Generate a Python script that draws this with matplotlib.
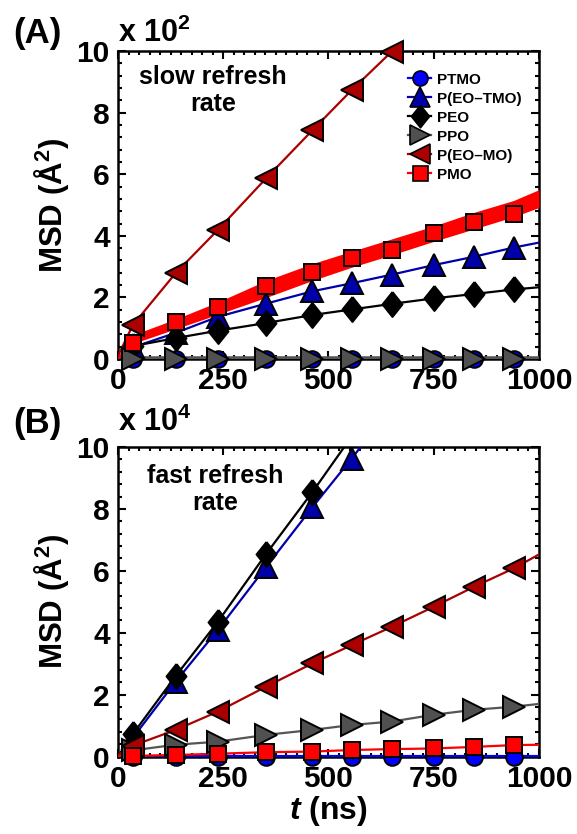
import matplotlib
matplotlib.use("Agg")
import matplotlib.pyplot as plt
from matplotlib.ticker import MultipleLocator
from matplotlib.lines import Line2D

plt.rcParams['font.family'] = 'Liberation Sans'
plt.rcParams['font.weight'] = 'bold'
plt.rcParams['axes.labelweight'] = 'bold'
plt.rcParams['mathtext.fontset'] = 'custom'
plt.rcParams['mathtext.rm'] = 'Liberation Sans:bold'
plt.rcParams['mathtext.bf'] = 'Liberation Sans:bold'
plt.rcParams['mathtext.it'] = 'Liberation Sans:bold:italic'

# time points (ns): line starts at 0, markers at the inner points
t_line = [0, 35, 137, 237, 352, 462, 555, 650, 750, 845, 940, 1000]

# panel A, slow refresh rate (x 10^2 A^2)
A_ptmo = [0, 0, 0, 0, 0, 0, 0, 0, 0, 0, 0, 0]
A_peotmo = [0, 0.38, 0.85, 1.37, 1.80, 2.20, 2.46, 2.74, 3.05, 3.32, 3.62, 3.78]
A_peo = [0, 0.42, 0.68, 0.92, 1.17, 1.43, 1.61, 1.79, 1.97, 2.11, 2.26, 2.33]
A_ppo = [0, 0, 0, 0, 0, 0, 0, 0, 0, 0, 0, 0]
A_peomo_t = [0, 35, 137, 237, 352, 462, 555, 650, 662]
A_peomo = [0.1, 1.10, 2.79, 4.19, 5.87, 7.43, 8.73, 9.98, 10.15]
A_pmo = [0, 0.53, 1.21, 1.68, 2.36, 2.83, 3.29, 3.54, 4.08, 4.46, 4.70, 5.2]
A_pmo_low = [0, 0.50, 0.98, 1.45, 2.00, 2.55, 2.98, 3.38, 3.82, 4.22, 4.62, 4.92]
A_pmo_high = [0.1, 0.78, 1.30, 1.85, 2.55, 3.10, 3.50, 3.90, 4.32, 4.76, 5.15, 5.50]

# panel B, fast refresh rate (x 10^4 A^2)
B_ptmo = [0, 0, 0, 0, 0, 0, 0, 0, 0, 0, 0, 0]
B_peotmo_t = [0, 35, 137, 237, 352, 462, 555, 582]
B_peotmo = [0, 0.60, 2.42, 4.09, 6.13, 8.06, 9.63, 10.1]
B_peo_t = [0, 35, 137, 237, 352, 462, 545]
B_peo = [0, 0.72, 2.60, 4.35, 6.55, 8.55, 10.15]
B_ppo = [0, 0.20, 0.38, 0.48, 0.70, 0.86, 1.02, 1.13, 1.35, 1.51, 1.61, 1.70]
B_peomo = [0.05, 0.35, 0.86, 1.45, 2.26, 3.01, 3.60, 4.19, 4.84, 5.48, 6.08, 6.53]
B_pmo = [0, 0.02, 0.05, 0.09, 0.14, 0.16, 0.21, 0.24, 0.26, 0.31, 0.37, 0.38]

names = ['PTMO', 'P(EO\u2013TMO)', 'PEO', 'PPO', 'P(EO\u2013MO)', 'PMO']
line_cols = ['#0000ff', '#0000aa', '#000000', '#555555', '#aa0000', '#ff0000']
face_cols = ['#0000ff', '#0000aa', '#000000', '#505050', '#aa0000', '#ff0000']
diamond = [(0, 1), (0.8, 0), (0, -1), (-0.8, 0), (0, 1)]
markers = ['o', '^', diamond, '>', '<', 's']
msizes = [12, 16, 18, 16, 16, 12]


def draw(ax, i, t, y, lw=1.6, nmark=10):
    ax.plot(t, y, color=line_cols[i], lw=lw, zorder=3 + i)
    ax.plot(t[1:1 + nmark], y[1:1 + nmark], ls='none', marker=markers[i],
            ms=msizes[i], mfc=face_cols[i], mec='black', mew=1.4,
            clip_on=False, zorder=10 + i)


def style(ax):
    ax.set_xlim(0, 1000)
    ax.set_ylim(0, 10)
    ax.xaxis.set_major_locator(MultipleLocator(250))
    ax.xaxis.set_minor_locator(MultipleLocator(25))
    ax.yaxis.set_major_locator(MultipleLocator(2))
    ax.yaxis.set_minor_locator(MultipleLocator(0.4))
    ax.tick_params(which='both', direction='in', top=True, right=True,
                   width=1.5, labelsize=21.5, pad=6)
    ax.tick_params(which='major', length=6)
    ax.tick_params(which='minor', length=3)
    for s in ax.spines.values():
        s.set_linewidth(1.8)
    ax.set_ylabel('MSD (\u00c5$^2$)', fontsize=22.5, fontweight='bold', labelpad=4)


fig = plt.figure(figsize=(5.77, 8.34), dpi=100)
axA = fig.add_axes([0.2045, 0.5695, 0.7296, 0.3693])
axB = fig.add_axes([0.2045, 0.0929, 0.7296, 0.3710])

# panel A
draw(axA, 0, t_line, A_ptmo, lw=2.5)
draw(axA, 1, t_line, A_peotmo)
draw(axA, 2, t_line, A_peo)
draw(axA, 3, t_line, A_ppo, lw=4)
draw(axA, 4, A_peomo_t, A_peomo, nmark=7)
axA.fill_between(t_line, A_pmo_low, A_pmo_high, color='#ff0000', lw=0, zorder=8)
axA.plot(t_line[1:-1], A_pmo[1:-1], ls='none', marker=markers[5], ms=msizes[5],
         mfc=face_cols[5], mec='black', mew=1.4, clip_on=False, zorder=15)
style(axA)
axA.text(0.225, 0.955, 'slow refresh\nrate', transform=axA.transAxes,
         ha='center', va='top', fontsize=18, linespacing=1.15)

handles = [Line2D([], [], color=line_cols[i], lw=1.6, marker=markers[i],
                  ms=msizes[i] * 0.9, mfc=face_cols[i], mec='black', mew=1.2)
           for i in range(6)]
axA.legend(handles, names, loc='upper left', bbox_to_anchor=(0.69, 0.93),
           frameon=False, fontsize=11, handlelength=1.5, handletextpad=0.4,
           labelspacing=0.33, borderpad=0, borderaxespad=0)

# panel B
draw(axB, 0, t_line, B_ptmo, lw=3)
draw(axB, 1, B_peotmo_t, B_peotmo, nmark=6)
draw(axB, 2, B_peo_t, B_peo, nmark=5)
draw(axB, 3, t_line, B_ppo)
draw(axB, 4, t_line, B_peomo)
draw(axB, 5, t_line, B_pmo)
style(axB)
axB.text(0.23, 0.945, 'fast refresh\nrate', transform=axB.transAxes,
         ha='center', va='top', fontsize=18, linespacing=1.15)
axB.set_xlabel('$t$ (ns)', fontsize=23, fontweight='bold', labelpad=1)

fig.text(0.0225, 0.948, '(A)', fontsize=25, va='baseline')
fig.text(0.204, 0.9496, 'x 10$^2$', fontsize=22, va='baseline')
fig.text(0.0225, 0.4804, '(B)', fontsize=25, va='baseline')
fig.text(0.204, 0.4832, 'x 10$^4$', fontsize=22, va='baseline')

fig.savefig('out.png', dpi=100)
